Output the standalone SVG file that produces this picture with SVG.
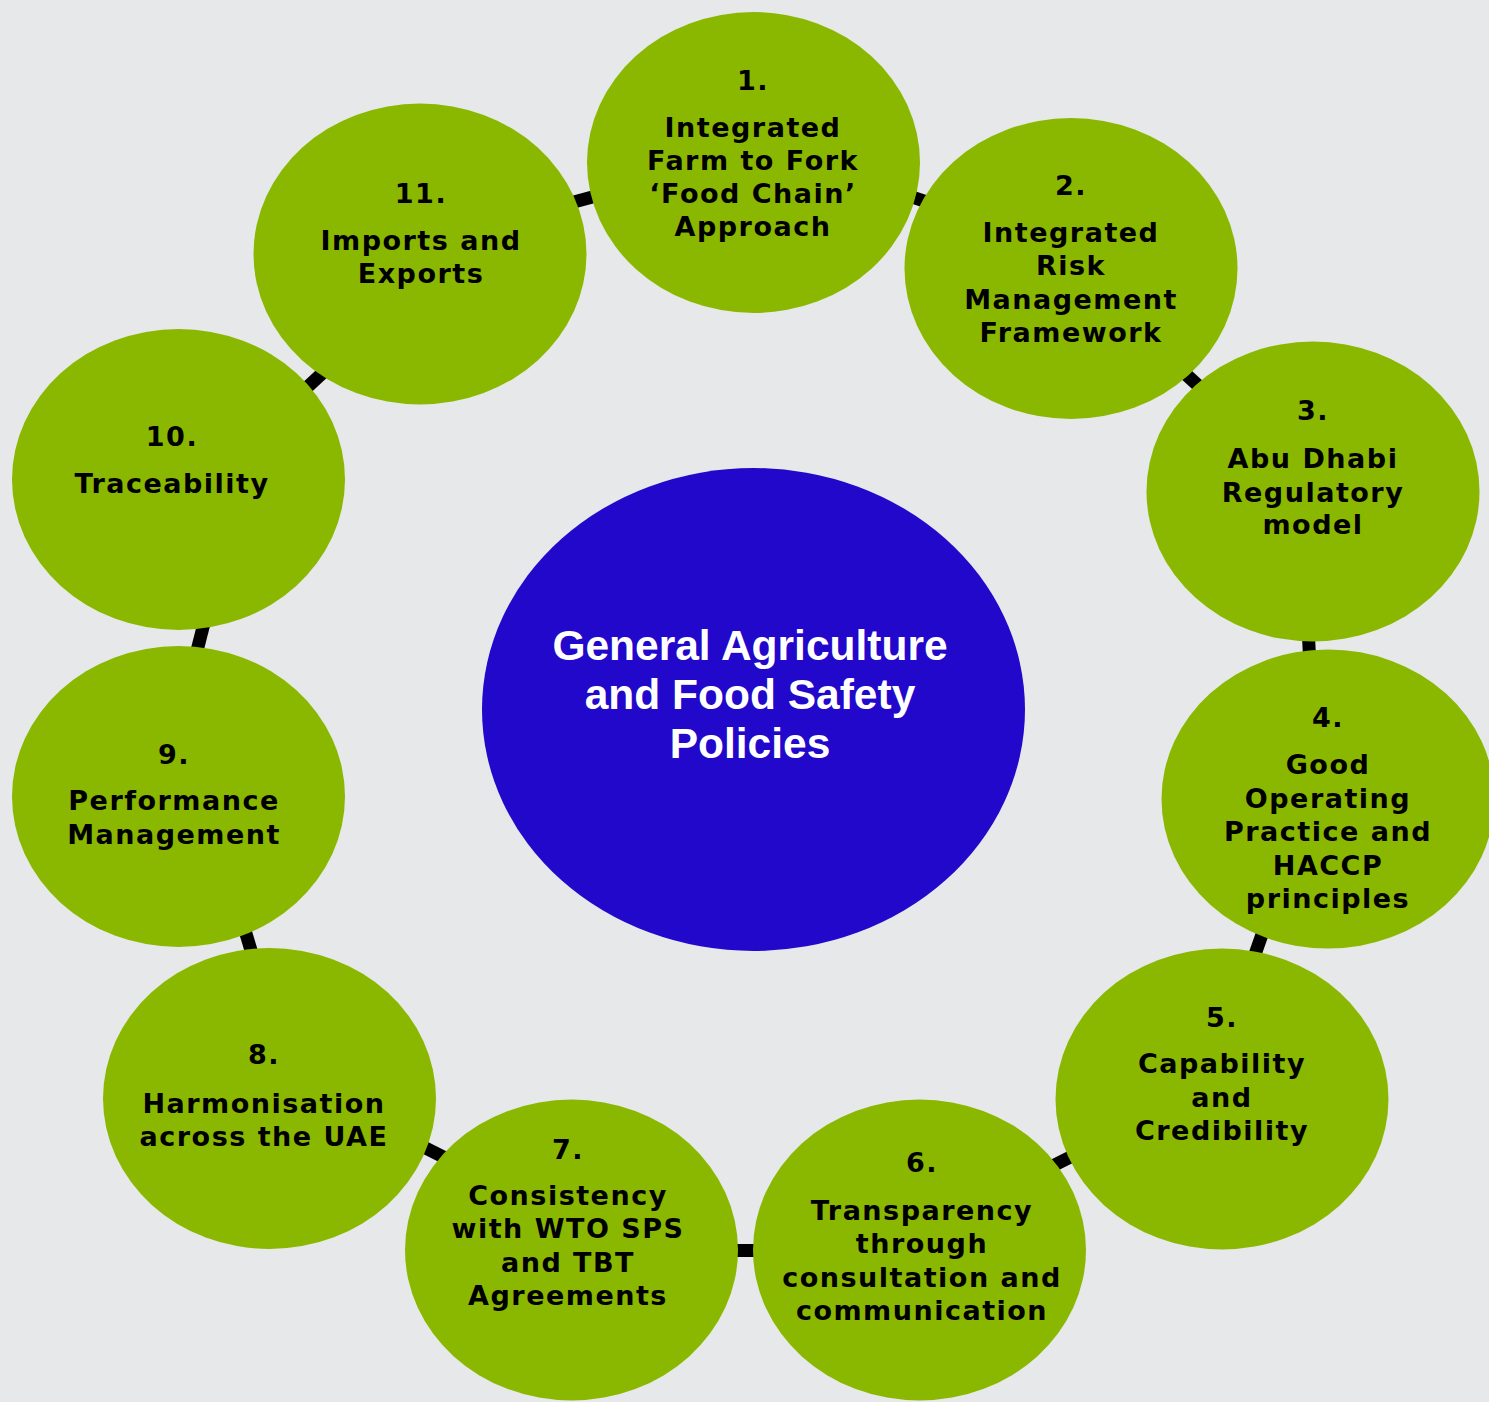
<svg xmlns="http://www.w3.org/2000/svg" width="1489" height="1402" viewBox="0 0 1489 1402">
  <style>
    .bg { fill: #e6e8ea; }
    .node ellipse { fill: #8ab800; }
    .node text { font-family: "DejaVu Sans", Verdana, sans-serif; font-weight: bold; font-size: 27px; letter-spacing: 1.5px; fill: #000; text-anchor: middle; }
    .hub ellipse { fill: #2108cb; }
    .hub text { font-family: "Liberation Sans", Arial, sans-serif; font-weight: bold; font-size: 42.5px; fill: #fff; text-anchor: middle; }
    .links line { stroke: #000; stroke-width: 13; }
  </style>
  <rect class="bg" x="0" y="0" width="1489" height="1402"/>

  <!-- short links bridging the gaps between neighbouring nodes (ends tucked under the ellipses) -->
  <g id="connectors" class="links">
    <line x1="895.8" y1="191.6" x2="943.2" y2="207.4"/>
    <line x1="1172.6" y1="362.1" x2="1209.4" y2="395.9"/>
    <line x1="1307.8" y1="621.5" x2="1310.2" y2="671.5"/>
    <line x1="1267.3" y1="919.4" x2="1250.7" y2="966.6"/>
    <line x1="1083.9" y1="1150.3" x2="1039.1" y2="1172.7"/>
    <line x1="771" y1="1250.5" x2="721" y2="1250.5"/>
    <line x1="456.8" y1="1163.7" x2="412.2" y2="1141.3"/>
    <line x1="255.7" y1="965.9" x2="241.3" y2="918.1"/>
    <line x1="194.4" y1="661.2" x2="206.6" y2="612.8"/>
    <line x1="296.7" y1="397.1" x2="333.3" y2="362.9"/>
    <line x1="560.9" y1="205.6" x2="609.1" y2="192.4"/>
  </g>

  <g id="hub" class="hub">
    <ellipse cx="753.5" cy="709.5" rx="271.5" ry="241.5"/>
    <text x="750" y="660">General Agriculture</text>
    <text x="750" y="709">and Food Safety</text>
    <text x="750" y="758">Policies</text>
  </g>

  <g id="node1" class="node">
    <ellipse cx="753.5" cy="162.5" rx="166.5" ry="150.5"/>
    <text x="753" y="90">1.</text>
    <text x="753" y="137">Integrated</text>
    <text x="753" y="170">Farm to Fork</text>
    <text x="753" y="203">‘Food Chain’</text>
    <text x="753" y="236">Approach</text>
  </g>

  <g id="node2" class="node">
    <ellipse cx="1071" cy="268.5" rx="166.5" ry="150.5"/>
    <text x="1071" y="195">2.</text>
    <text x="1071" y="242">Integrated</text>
    <text x="1071" y="275">Risk</text>
    <text x="1071" y="309">Management</text>
    <text x="1071" y="342">Framework</text>
  </g>

  <g id="node3" class="node">
    <ellipse cx="1313" cy="491.5" rx="166.5" ry="150"/>
    <text x="1313" y="420">3.</text>
    <text x="1313" y="468">Abu Dhabi</text>
    <text x="1313" y="502">Regulatory</text>
    <text x="1313" y="534">model</text>
  </g>

  <g id="node4" class="node">
    <ellipse cx="1328" cy="799" rx="166.5" ry="149.5"/>
    <text x="1328" y="727">4.</text>
    <text x="1328" y="774">Good</text>
    <text x="1328" y="808">Operating</text>
    <text x="1328" y="841">Practice and</text>
    <text x="1328" y="875">HACCP</text>
    <text x="1328" y="908">principles</text>
  </g>

  <g id="node5" class="node">
    <ellipse cx="1222" cy="1099" rx="166.5" ry="150.5"/>
    <text x="1222" y="1027">5.</text>
    <text x="1222" y="1073">Capability</text>
    <text x="1222" y="1107">and</text>
    <text x="1222" y="1140">Credibility</text>
  </g>

  <g id="node6" class="node">
    <ellipse cx="919.5" cy="1250" rx="166.5" ry="150.5"/>
    <text x="922" y="1172">6.</text>
    <text x="922" y="1220">Transparency</text>
    <text x="922" y="1253">through</text>
    <text x="922" y="1287">consultation and</text>
    <text x="922" y="1320">communication</text>
  </g>

  <g id="node7" class="node">
    <ellipse cx="571.5" cy="1250" rx="166.5" ry="150.5"/>
    <text x="568" y="1159">7.</text>
    <text x="568" y="1205">Consistency</text>
    <text x="568" y="1238">with WTO SPS</text>
    <text x="568" y="1272">and TBT</text>
    <text x="568" y="1305">Agreements</text>
  </g>

  <g id="node8" class="node">
    <ellipse cx="269.5" cy="1098.5" rx="166.5" ry="150.5"/>
    <text x="264" y="1064">8.</text>
    <text x="264" y="1113">Harmonisation</text>
    <text x="264" y="1146">across the UAE</text>
  </g>

  <g id="node9" class="node">
    <ellipse cx="178.5" cy="796.5" rx="166.5" ry="150.5"/>
    <text x="174" y="764">9.</text>
    <text x="174" y="810">Performance</text>
    <text x="174" y="844">Management</text>
  </g>

  <g id="node10" class="node">
    <ellipse cx="178.5" cy="479.5" rx="166.5" ry="150.5"/>
    <text x="172" y="446">10.</text>
    <text x="172" y="493">Traceability</text>
  </g>

  <g id="node11" class="node">
    <ellipse cx="420" cy="254" rx="166.5" ry="150.5"/>
    <text x="421" y="203">11.</text>
    <text x="421" y="250">Imports and</text>
    <text x="421" y="283">Exports</text>
  </g>
</svg>
